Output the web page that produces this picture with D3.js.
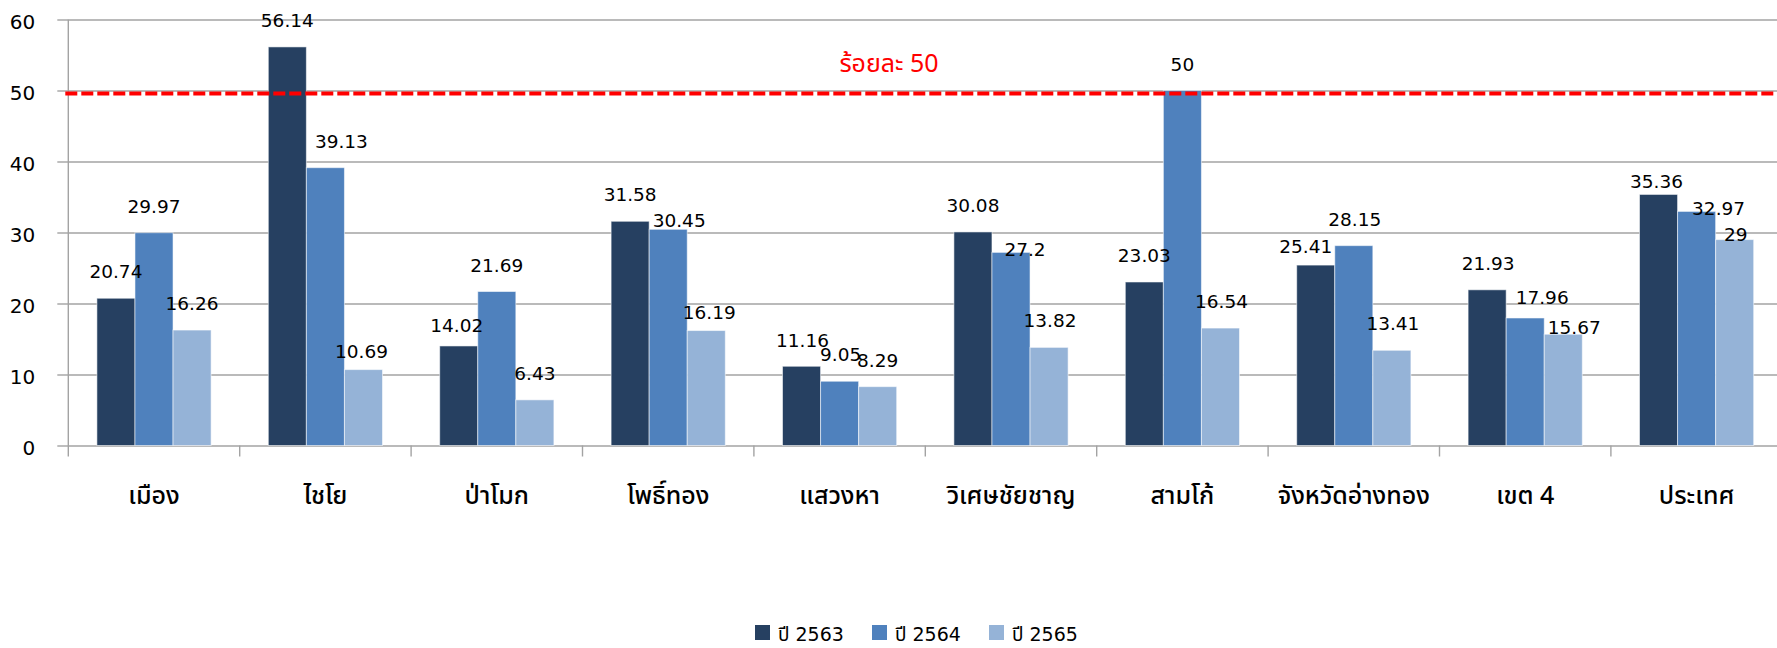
<!DOCTYPE html>
<html>
<head>
<meta charset="utf-8">
<script src="https://cdn.jsdelivr.net/npm/d3@7"></script>
<style>
  html, body { margin: 0; padding: 0; background: #ffffff; }
  svg { display: block; }
  .num { font-family: "DejaVu Sans", Verdana, sans-serif; }
  .thai { font-family: "Noto Sans Thai", "Leelawadee UI", Tahoma, "DejaVu Sans", sans-serif; }
  .legend-text { font-family: "DejaVu Sans", "Noto Sans Thai", sans-serif; }
</style>
</head>
<body>
<svg id="chart" width="1777" height="648"></svg>
<script>
// Districts compared, with the province, health region and country totals
const categories = ["เมือง", "ไชโย", "ป่าโมก", "โพธิ์ทอง", "แสวงหา", "วิเศษชัยชาญ", "สามโก้", "จังหวัดอ่างทอง", "เขต 4", "ประเทศ"];
const seriesNames = ["ปี 2563", "ปี 2564", "ปี 2565"];
const y2563 = [20.74, 56.14, 14.02, 31.58, 11.16, 30.08, 23.03, 25.41, 21.93, 35.36];
const y2564 = [29.97, 39.13, 21.69, 30.45, 9.05, 27.2, 50, 28.15, 17.96, 32.97];
const y2565 = [16.26, 10.69, 6.43, 16.19, 8.29, 13.82, 16.54, 13.41, 15.67, 29];
const yTicks = [0, 10, 20, 30, 40, 50, 60];
const targetValue = 50;
const targetLabel = "ร้อยละ 50";

const colors = ["#264061", "#4f81bd", "#95b3d7"];

// Hand-placed label nudges [dx, dy] so crowded value labels don't collide
const labelNudge = [
  [[0, 0], [0, 0], [0, 0]],
  [[0, 0], [16, 0], [-2, 8]],
  [[-2, 6], [0, 0], [0, 0]],
  [[0, 0], [11, 18], [3, 8]],
  [[1, 1], [1, 0], [0, 0]],
  [[0, 0], [14, 24], [1, 0]],
  [[0, 0], [0, 0], [1, 0]],
  [[-10, 8], [1, 0], [1, 0]],
  [[1, 0], [17, 6], [11, 20]],
  [[-2, 14], [22, 24], [1, 21]]
];

const series = [y2563, y2564, y2565];
const rows = categories.map((c, i) => ({ cat: c, i, vals: series.map(s => s[i]) }));

const svg = d3.select("#chart");
const plotLeft = 68.3, plotTop = 19.5, plotBottom = 445.5;
const bandW = 171.4;
const plotRight = plotLeft + bandW * categories.length;

const x = d3.scaleBand().domain(categories).range([plotLeft, plotRight]).paddingInner(0).paddingOuter(0);
const groupPad = 28.6;
const xs = d3.scaleBand().domain(d3.range(series.length)).range([groupPad, bandW - groupPad]).padding(0);
const y = d3.scaleLinear().domain([0, 60]).range([plotBottom, plotTop]);

// Horizontal gridlines (including the zero line)
svg.append("g")
  .attr("transform", `translate(${plotLeft},0)`)
  .call(d3.axisLeft(y).tickValues(yTicks).tickSize(-(plotRight - plotLeft)).tickFormat(""))
  .call(g => g.select(".domain").remove())
  .call(g => g.selectAll("line").attr("stroke", "#a3a3a3").attr("stroke-width", 1.4));

// Left axis tick marks and labels
svg.append("g")
  .attr("transform", `translate(${plotLeft},0)`)
  .call(d3.axisLeft(y).tickValues(yTicks).tickSize(11).tickPadding(22).tickSizeOuter(0))
  .call(g => g.select(".domain").remove())
  .call(g => g.selectAll("line").attr("stroke", "#a3a3a3").attr("stroke-width", 1.4))
  .call(g => g.selectAll("text")
    .attr("class", "num")
    .attr("font-size", 20)
    .attr("fill", "#000")
    .attr("dy", "0.45em"));

// Vertical axis line, running a little below zero
svg.append("line")
  .attr("x1", plotLeft).attr("x2", plotLeft)
  .attr("y1", plotTop).attr("y2", plotBottom + 11)
  .attr("stroke", "#a3a3a3").attr("stroke-width", 1.4);

// Category separators below the baseline
svg.append("g").selectAll("line")
  .data(categories)
  .join("line")
  .attr("x1", d => x(d) + bandW).attr("x2", d => x(d) + bandW)
  .attr("y1", plotBottom).attr("y2", plotBottom + 11)
  .attr("stroke", "#a3a3a3").attr("stroke-width", 1.4);

// Bars
const groups = svg.append("g").selectAll("g")
  .data(rows)
  .join("g")
  .attr("transform", d => `translate(${x(d.cat)},0)`);

groups.selectAll("rect")
  .data(d => d.vals.map((v, k) => ({ v, k })))
  .join("rect")
  .attr("x", d => xs(d.k))
  .attr("width", xs.bandwidth())
  .attr("y", d => y(d.v))
  .attr("height", d => y(0) - y(d.v))
  .attr("fill", d => colors[d.k])
  .attr("stroke", "rgba(255,255,255,0.55)")
  .attr("stroke-width", 1);

// Target line at 50 percent
svg.append("line")
  .attr("x1", plotLeft - 3).attr("x2", 1777)
  .attr("y1", y(targetValue) + 3).attr("y2", y(targetValue) + 3)
  .attr("stroke", "#ff0000")
  .attr("stroke-width", 4)
  .attr("stroke-dasharray", "12,4");

svg.append("text")
  .attr("class", "thai")
  .attr("x", 889)
  .attr("y", 72)
  .attr("text-anchor", "middle")
  .attr("font-size", 25)
  .attr("fill", "#ff0000")
  .text(targetLabel);

// Value labels
groups.selectAll("text.val")
  .data(d => d.vals.map((v, k) => ({ v, k, n: labelNudge[d.i][k] })))
  .join("text")
  .attr("class", "val num")
  .attr("x", d => xs(d.k) + xs.bandwidth() / 2 + d.n[0])
  .attr("y", d => y(d.v) - 20 + d.n[1])
  .attr("text-anchor", "middle")
  .attr("font-size", 18.5)
  .attr("fill", "#000")
  .text(d => d3.format("~g")(d.v));

// Category labels
svg.append("g").selectAll("text")
  .data(categories)
  .join("text")
  .attr("class", "thai")
  .attr("x", d => x(d) + bandW / 2)
  .attr("y", 504)
  .attr("text-anchor", "middle")
  .attr("font-size", 25)
  .attr("font-weight", 500)
  .attr("fill", "#000")
  .text(d => d);

// Legend
const legendX = [755, 872, 989];
const legend = svg.append("g").selectAll("g")
  .data(seriesNames)
  .join("g")
  .attr("transform", (d, i) => `translate(${legendX[i]},625)`);
legend.append("rect")
  .attr("width", 15).attr("height", 15)
  .attr("fill", (d, i) => colors[i]);
legend.append("text")
  .attr("class", "legend-text")
  .attr("x", 23).attr("y", 16)
  .attr("font-size", 19)
  .attr("fill", "#000")
  .text(d => d);
</script>
</body>
</html>
